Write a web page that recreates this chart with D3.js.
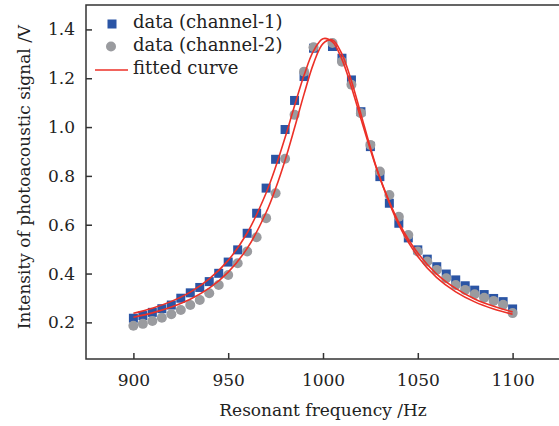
<!DOCTYPE html>
<html>
<head>
<meta charset="utf-8">
<script src="https://cdn.jsdelivr.net/npm/d3@7"></script>
<style>
  html, body { margin: 0; padding: 0; background: #fff; }
  svg { display: block; }
  text { font-family: "DejaVu Serif", "Liberation Serif", serif; fill: #222; }
</style>
</head>
<body>
<svg id="chart" width="559" height="426"></svg>
<script>
// ---- data ----
const freq = [900,905,910,915,920,925,930,935,940,945,950,955,960,965,970,975,980,985,990,995,
              1005,1010,1015,1020,1025,1030,1035,1040,1045,1050,1055,1060,1065,1070,1075,1080,1085,1090,1095,1100];
const channel1 = [0.217,0.228,0.241,0.256,0.271,0.299,0.321,0.343,0.367,0.401,0.447,0.497,0.565,0.647,0.750,0.868,0.990,1.109,1.207,1.323,
                  1.330,1.282,1.193,1.063,0.920,0.797,0.688,0.606,0.546,0.497,0.459,0.428,0.398,0.374,0.350,0.332,0.314,0.298,0.285,0.255];
const channel2 = [0.186,0.194,0.206,0.219,0.233,0.251,0.271,0.292,0.319,0.353,0.394,0.442,0.490,0.549,0.627,0.729,0.870,1.050,1.227,1.327,
                  1.344,1.268,1.173,1.057,0.927,0.818,0.722,0.633,0.558,0.490,0.449,0.415,0.381,0.353,0.333,0.315,0.301,0.288,0.272,0.238];
// fitted curves
const fitFreq = [900,910,920,930,940,950,960,970,975,980,985,990,995,1000,1005,1010,1015,1020,1025,1030,1040,1050,1060,1070,1080,1090,1100];
const fit1 = [0.237,0.258,0.286,0.324,0.378,0.454,0.566,0.730,0.836,0.957,1.087,1.212,1.312,1.362,1.349,1.277,1.163,1.034,0.907,0.792,0.609,0.484,0.398,0.339,0.296,0.266,0.243];
const fit2 = [0.221,0.239,0.263,0.295,0.340,0.406,0.503,0.650,0.748,0.864,0.997,1.135,1.260,1.342,1.357,1.299,1.189,1.053,0.916,0.792,0.599,0.470,0.383,0.325,0.284,0.255,0.233];
const xTicks = [900,950,1000,1050,1100];
const yTicks = [0.2,0.4,0.6,0.8,1.0,1.2,1.4];
const legendLabels = ["data (channel-1)", "data (channel-2)", "fitted curve"];
const xLabel = "Resonant frequency /Hz";
const yLabel = "Intensity of photoacoustic signal /V";

// ---- layout ----
const svg = d3.select("#chart");
const L = 86, R = 560, T = 5, B = 359;
const x = d3.scaleLinear().domain([875, 1125]).range([L, R]);
const y = d3.scaleLinear().domain([0.05, 1.5]).range([B, T]);

const blue = "#2b55a5", grey = "#9a9b9f", red = "#ec3027", axisCol = "#333";

// frame
svg.append("rect").attr("x", L).attr("y", T).attr("width", R - L).attr("height", B - T)
  .attr("fill", "none").attr("stroke", axisCol).attr("stroke-width", 1.5);

// axes
const xAxis = svg.append("g").attr("transform", `translate(0,${B})`)
  .call(d3.axisBottom(x).tickValues(xTicks).tickFormat(d3.format("d")).tickSizeInner(-6).tickSizeOuter(0).tickPadding(15));
const yAxis = svg.append("g").attr("transform", `translate(${L},0)`)
  .call(d3.axisLeft(y).tickValues(yTicks).tickFormat(d3.format(".1f")).tickSizeInner(-6).tickSizeOuter(0).tickPadding(11));
[xAxis, yAxis].forEach(g => {
  g.select(".domain").remove();
  g.selectAll(".tick line").attr("stroke", axisCol).attr("stroke-width", 1.5);
  g.selectAll(".tick text").attr("font-family", "DejaVu Serif").attr("font-size", 17).attr("fill", "#222");
});

// axis titles
svg.append("text").attr("x", (L + R) / 2).attr("y", 416).attr("text-anchor", "middle")
  .attr("font-size", 17).text(xLabel);
svg.append("text").attr("transform", `translate(30,177) rotate(-90)`).attr("text-anchor", "middle")
  .attr("font-size", 17).text(yLabel);

// data points
const pts1 = freq.map((f, i) => ({ f, v: channel1[i] }));
const pts2 = freq.map((f, i) => ({ f, v: channel2[i] }));
const sq = 9;
svg.append("g").selectAll("rect").data(pts1).join("rect")
  .attr("x", d => x(d.f) - sq / 2).attr("y", d => y(d.v) - sq / 2)
  .attr("width", sq).attr("height", sq).attr("fill", blue);
svg.append("g").selectAll("circle").data(pts2).join("circle")
  .attr("cx", d => x(d.f)).attr("cy", d => y(d.v)).attr("r", 5).attr("fill", grey);

// fitted curves
const line = d3.line().x(d => x(d.f)).y(d => y(d.v)).curve(d3.curveCatmullRom.alpha(0.5));
[fit1, fit2].forEach(arr => {
  svg.append("path").datum(fitFreq.map((f, i) => ({ f, v: arr[i] })))
    .attr("d", line).attr("fill", "none").attr("stroke", red).attr("stroke-width", 1.6);
});

// legend
const lg = svg.append("g");
lg.append("rect").attr("x", 107.5).attr("y", 19.5).attr("width", 9).attr("height", 9).attr("fill", blue);
lg.append("circle").attr("cx", 111).attr("cy", 46.5).attr("r", 5).attr("fill", grey);
lg.append("line").attr("x1", 95).attr("x2", 128).attr("y1", 70).attr("y2", 70).attr("stroke", red).attr("stroke-width", 1.6);
[28, 51, 74].forEach((by, i) => {
  lg.append("text").attr("x", 133).attr("y", by).attr("font-size", 18).text(legendLabels[i]);
});
</script>
</body>
</html>
